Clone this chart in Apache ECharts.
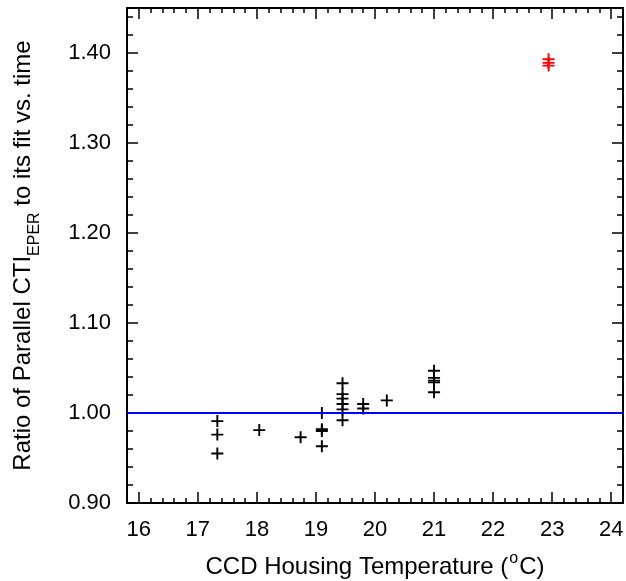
<!DOCTYPE html>
<html>
<head>
<meta charset="utf-8">
<script src="https://cdn.jsdelivr.net/npm/echarts@6/dist/echarts.min.js"></script>
<style>
  html, body { margin: 0; padding: 0; background: #fff; }
  #chart { width: 626px; height: 581px; }
</style>
</head>
<body>
<div id="chart"></div>
<script>
// CTI ratio measurements against CCD housing temperature
const tempBlack = [17.33, 17.33, 17.33, 18.04, 18.74, 19.10, 19.10, 19.10, 19.10,
                   19.45, 19.45, 19.45, 19.45, 19.45, 19.45, 19.80, 19.80, 20.20,
                   21.00, 21.00, 21.00, 21.00, 21.00];
const ratioBlack = [0.991, 0.976, 0.955, 0.981, 0.973, 1.000, 0.982, 0.980, 0.963,
                    1.033, 1.021, 1.016, 1.010, 1.004, 0.992, 1.010, 1.005, 1.014,
                    1.047, 1.039, 1.036, 1.034, 1.023];
const tempRed = [22.94, 22.94, 22.94];
const ratioRed = [1.393, 1.389, 1.386];

const xTicks = [16, 17, 18, 19, 20, 21, 22, 23, 24];
const yTicks = [0.90, 1.00, 1.10, 1.20, 1.30, 1.40];
const referenceLevel = 1.00;

const X_MIN = 15.8, X_MAX = 24.2, Y_MIN = 0.90, Y_MAX = 1.45;

function steps(lo, hi, step, digits) {
  const out = [];
  const n = Math.round((hi - lo) / step);
  for (let i = 0; i <= n; i++) out.push(+(lo + i * step).toFixed(digits));
  return out;
}
const xMinor = steps(X_MIN, X_MAX, 0.2, 1);
const yMinor = steps(Y_MIN, Y_MAX, 0.02, 2);

const FONT = 'Liberation Sans, Arial, Helvetica, sans-serif';
const LABEL_SIZE = 22;
const NAME_SIZE = 24;
const plus = 'path://M0,4.2H4.2V0H5.8V4.2H10V5.8H5.8V10H4.2V5.8H0Z';
const lineStyle = { color: '#000', width: 2 };

function xAxis(position, major, labels) {
  return {
    type: 'value', position: position, min: X_MIN, max: X_MAX,
    axisLine: { show: major, onZero: false, lineStyle: lineStyle },
    axisTick: { show: true, inside: true, length: major ? 11 : 5,
                customValues: major ? xTicks : xMinor,
                lineStyle: { color: '#000', width: 1.5 } },
    axisLabel: labels ? { show: true, customValues: xTicks, margin: 16,
                          fontSize: LABEL_SIZE, color: '#000', fontFamily: FONT }
                      : { show: false },
    splitLine: { show: false },
    name: labels ? '{t|CCD Housing Temperature (}{sup|o}{t|C)}' : '',
    nameLocation: 'middle', nameGap: 48,
    nameTextStyle: labels ? {
      fontSize: NAME_SIZE, color: '#000', fontFamily: FONT,
      rich: {
        t: { fontSize: NAME_SIZE, fontFamily: FONT, color: '#000', lineHeight: 28, verticalAlign: 'bottom' },
        sup: { fontSize: 16, fontFamily: FONT, color: '#000', lineHeight: 16,
               verticalAlign: 'bottom', padding: [0, 1, 12, 1] }
      }
    } : {}
  };
}

function yAxis(position, major, labels) {
  return {
    type: 'value', position: position, min: Y_MIN, max: Y_MAX,
    axisLine: { show: major, onZero: false, lineStyle: lineStyle },
    axisTick: { show: true, inside: true, length: major ? 11 : 6,
                customValues: major ? yTicks : yMinor,
                lineStyle: { color: '#000', width: 1.5 } },
    axisLabel: labels ? { show: true, customValues: yTicks, margin: 16,
                          fontSize: LABEL_SIZE, color: '#000', fontFamily: FONT,
                          formatter: v => v.toFixed(2) }
                      : { show: false },
    splitLine: { show: false },
    name: labels ? '{t|Ratio of Parallel CTI}{sub|EPER}{t| to its fit vs. time}' : '',
    nameLocation: 'middle', nameGap: 88, nameRotate: 90,
    nameTextStyle: labels ? {
      fontSize: NAME_SIZE, color: '#000', fontFamily: FONT,
      rich: {
        t: { fontSize: NAME_SIZE, fontFamily: FONT, color: '#000', lineHeight: 28, verticalAlign: 'top' },
        sub: { fontSize: 16, fontFamily: FONT, color: '#000', verticalAlign: 'top',
               lineHeight: 16, padding: [16, 0, 0, 0] }
      }
    } : {}
  };
}

const chart = echarts.init(document.getElementById('chart'), null, { renderer: 'canvas' });
chart.setOption({
  animation: false,
  backgroundColor: '#fff',
  grid: { left: 127, right: 3, top: 8, bottom: 78, containLabel: false, outerBoundsMode: 'none' },
  xAxis: [
    xAxis('bottom', true, true),
    xAxis('bottom', false, false),
    xAxis('top', true, false),
    xAxis('top', false, false)
  ],
  yAxis: [
    yAxis('left', true, true),
    yAxis('left', false, false),
    yAxis('right', true, false),
    yAxis('right', false, false)
  ],
  series: [
    {
      type: 'scatter', xAxisIndex: 0, yAxisIndex: 0,
      data: tempBlack.map((t, i) => [t, ratioBlack[i]]),
      symbol: plus, symbolSize: 12,
      itemStyle: { color: '#000', opacity: 1 },
      markLine: {
        silent: true, symbol: 'none', label: { show: false },
        lineStyle: { color: '#0000ff', width: 2, type: 'solid' },
        data: [{ yAxis: referenceLevel }]
      },
      z: 3
    },
    {
      type: 'scatter', xAxisIndex: 0, yAxisIndex: 0,
      data: tempRed.map((t, i) => [t, ratioRed[i]]),
      symbol: plus, symbolSize: 12,
      itemStyle: { color: '#ff0000', opacity: 1 },
      z: 3
    }
  ]
});
</script>
</body>
</html>
